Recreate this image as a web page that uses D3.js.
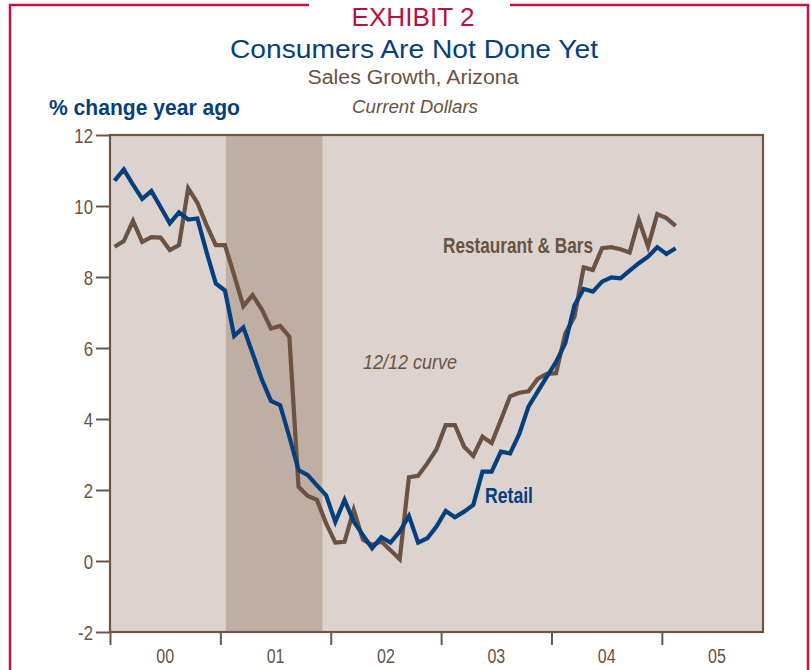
<!DOCTYPE html>
<html><head><meta charset="utf-8">
<script src="https://cdn.jsdelivr.net/npm/d3@7"></script>
<style>body{margin:0;background:#fff} svg{display:block}</style>
</head><body><svg id="c" width="811" height="670"></svg>
<script>
// Monthly data, Jan 2000 .. Feb 2005 (% change year ago, 12/12 curve)
const yearLabels = ["00","01","02","03","04","05"];
const yTicks = [-2,0,2,4,6,8,10,12];
const retail = [10.71,11.03,10.6,10.2,10.42,9.97,9.51,9.82,9.62,9.65,8.7,7.82,
  7.62,6.34,6.58,5.85,5.12,4.51,4.39,3.5,2.56,2.42,2.13,1.85,
  1.1,1.72,1.11,0.73,0.36,0.67,0.52,0.83,1.27,0.52,0.64,0.97,
  1.41,1.23,1.39,1.58,2.52,2.52,3.08,3.03,3.58,4.35,4.77,5.19,
  5.61,6.13,7.2,7.66,7.59,7.87,7.99,7.96,8.18,8.39,8.57,8.84,
  8.65,8.81];
const restaurant = [8.85,9.01,9.58,8.99,9.12,9.11,8.76,8.9,10.5,10.09,9.46,8.9,
  8.9,8.05,7.18,7.49,7.09,6.55,6.62,6.32,2.09,1.83,1.72,1.06,
  0.52,0.54,1.44,0.6,0.45,0.55,0.3,0.05,2.36,2.4,2.75,3.15,
  3.83,3.83,3.22,2.96,3.5,3.32,3.97,4.64,4.74,4.78,5.13,5.27,
  5.29,6.41,6.88,8.27,8.2,8.81,8.84,8.78,8.69,9.61,8.86,9.77,
  9.66,9.44];
const recession = [12.6, 23.1]; // months since Jan 2000

const C = {frame:"#c4123f", title:"#b8123f", navy:"#063f7e", brown:"#6b5242",
  plotBg:"#dcd3ce", shade:"#bfaea3", axis:"#6e5646"};
const FONT = "'Liberation Sans',Arial,sans-serif";

const svg = d3.select("#c");
const x = d3.scaleLinear().domain([0, 71]).range([110, 763]);
const y = d3.scaleLinear().domain([-2, 12]).range([632, 135]);

// condense text horizontally (reference uses a condensed face)
function condense(sel, k) {
  sel.each(function(){
    const L = this.getComputedTextLength();
    d3.select(this).attr("textLength", L*k).attr("lengthAdjust","spacingAndGlyphs");
  });
}
function txt(xp, yp, s, size, color, opts={}) {
  const t = svg.append("text").attr("x",xp).attr("y",yp)
    .attr("font-family",FONT).attr("font-size",size).attr("fill",color)
    .attr("text-anchor",opts.anchor||"start")
    .attr("font-weight",opts.weight||"normal").attr("font-style",opts.style||"normal").text(s);
  if (opts.w) t.attr("textLength",opts.w).attr("lengthAdjust","spacingAndGlyphs");
  return t;
}

// frame
svg.append("path").attr("fill","none").attr("stroke",C.frame).attr("stroke-width",2.5)
  .attr("d","M309,5 H10 V670 M510,5 H808 V670");

// titles
txt(413,26,"EXHIBIT 2",26.5,C.title,{anchor:"middle",w:123});
txt(414,58,"Consumers Are Not Done Yet",26.5,C.navy,{anchor:"middle",w:368});
txt(413,84,"Sales Growth, Arizona",19.5,C.brown,{anchor:"middle",w:211});
txt(415,113,"Current Dollars",18,C.brown,{anchor:"middle",style:"italic",w:126});
txt(49,115,"% change year ago",21.5,C.navy,{weight:"bold",w:191});

// plot area
svg.append("rect").attr("x",x(0)).attr("y",y(12)).attr("width",x(71)-x(0)).attr("height",y(-2)-y(12))
  .attr("fill",C.plotBg);
svg.append("rect").attr("x",x(recession[0])).attr("y",y(12)+1).attr("width",x(recession[1])-x(recession[0]))
  .attr("height",y(-2)-y(12)-2).attr("fill",C.shade);

// y axis
const yAxis = svg.append("g").attr("transform",`translate(${x(0)},0)`)
  .call(d3.axisLeft(y).tickValues(yTicks).tickSize(14).tickPadding(3).tickFormat(d => String(d)));
yAxis.select(".domain").remove();
yAxis.selectAll(".tick line").attr("stroke",C.axis).attr("stroke-width",2);
yAxis.selectAll(".tick text").attr("fill",C.brown).attr("font-family",FONT).attr("font-size",21)
  .attr("dy","0.36em").call(condense,0.8);

// x axis
const xAxis = svg.append("g").attr("transform",`translate(0,${y(-2)})`)
  .call(d3.axisBottom(x).tickValues(d3.range(0,61,12)).tickSize(13).tickFormat(""));
xAxis.select(".domain").remove();
xAxis.selectAll(".tick line").attr("stroke",C.axis).attr("stroke-width",2);
svg.append("g").selectAll("text").data(yearLabels).join("text")
  .attr("x",(d,i)=>x(i*12+6)).attr("y",663).attr("text-anchor","middle")
  .attr("font-family",FONT).attr("font-size",20).attr("fill",C.brown).text(d=>d)
  .call(condense,0.8);

// border
svg.append("rect").attr("x",x(0)).attr("y",y(12)).attr("width",x(71)-x(0)).attr("height",y(-2)-y(12))
  .attr("fill","none").attr("stroke",C.axis).attr("stroke-width",2.2);

// lines
const line = d3.line().x((d,i)=>x(i+0.5)).y(d=>y(d));
svg.append("path").datum(restaurant).attr("d",line).attr("fill","none")
  .attr("stroke",C.brown).attr("stroke-width",4.2).attr("stroke-linejoin","miter");
svg.append("path").datum(retail).attr("d",line).attr("fill","none")
  .attr("stroke",C.navy).attr("stroke-width",4.2).attr("stroke-linejoin","miter");

// annotations
txt(443,253,"Restaurant & Bars",22,C.brown,{weight:"bold",w:150});
txt(485,503,"Retail",22,C.navy,{weight:"bold",w:48});
txt(363,369,"12/12 curve",21,C.brown,{style:"italic",w:94});
</script></body></html>
